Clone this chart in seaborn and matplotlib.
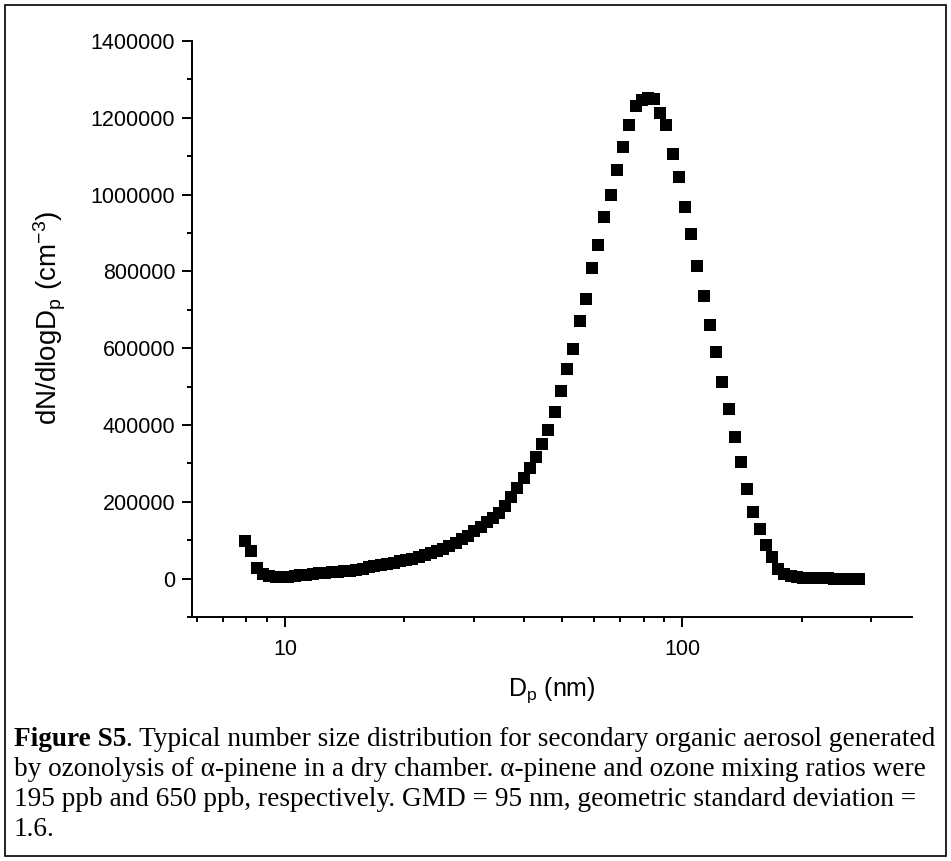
import numpy as np
import pandas as pd
import matplotlib
matplotlib.use("Agg")
import matplotlib.pyplot as plt
import seaborn as sns
from matplotlib.ticker import FixedLocator, NullFormatter, FuncFormatter, MultipleLocator, LogLocator
from matplotlib.patches import Rectangle

# ---- data ----
diameter_nm = [7.91, 8.20, 8.51, 8.82, 9.14, 9.47, 9.82, 10.2, 10.6, 10.9,
               11.3, 11.8, 12.2, 12.6, 13.1, 13.6, 14.1, 14.6, 15.1, 15.7,
               16.3, 16.8, 17.5, 18.1, 18.8, 19.5, 20.2, 20.9, 21.7, 22.5,
               23.3, 24.1, 25.0, 25.9, 26.9, 27.9, 28.9, 30.0, 31.1, 32.2,
               33.4, 34.6, 35.9, 37.2, 38.5, 40.0, 41.4, 42.9, 44.5, 46.1,
               47.8, 49.6, 51.4, 53.3, 55.2, 57.3, 59.4, 61.5, 63.8, 66.1,
               68.5, 71.0, 73.7, 76.4, 79.1, 82.0, 85.1, 88.2, 91.4, 94.7,
               98.2, 101.8, 105.5, 109.4, 113.4, 117.6, 121.9, 126.3, 131.0, 135.8,
               140.7, 145.9, 151.2, 156.8, 162.5, 168.5, 174.7, 181.1, 187.7, 194.6,
               201.7, 209.1, 216.7, 224.7, 232.9, 241.4, 250.3, 259.5, 269.0, 278.8]

dN_dlogDp = [99000, 71000, 27000, 12000, 7000, 5000, 4500, 5000, 6500, 8500,
             10500, 12500, 14000, 15500, 17000, 18000, 19500, 21000, 23000, 26000,
             29000, 32000, 35000, 38000, 41500, 45000, 48500, 52000, 56000, 60500,
             66000, 72000, 78000, 85000, 93000, 102000, 112000, 123000, 135000, 147000,
             159000, 172000, 190000, 213000, 237000, 262000, 288000, 317000, 350000, 386000,
             434000, 489000, 546000, 599000, 671000, 729000, 810000, 870000, 941000, 1000000,
             1064000, 1125000, 1182000, 1231000, 1246000, 1251000, 1248000, 1212000, 1181000, 1105000,
             1047000, 969000, 898000, 814000, 736000, 661000, 591000, 511000, 442000, 368000,
             303000, 233000, 174000, 129000, 88000, 55000, 25000, 13000, 6500, 3500,
             2000, 1200, 800, 500, 300, 200, 150, 100, 80, 50]

x_major_ticks = [10, 100]
x_tick_labels = ["10", "100"]

caption_bold = "Figure S5"
caption_lines = [
    ". Typical number size distribution for secondary organic aerosol generated",
    "by ozonolysis of \u03b1-pinene in a dry chamber. \u03b1-pinene and ozone mixing ratios were",
    "195 ppb and 650 ppb, respectively. GMD = 95 nm, geometric standard deviation =",
    "1.6.",
]

df = pd.DataFrame({"Dp": diameter_nm, "N": dN_dlogDp})

# ---- style ----
sns.set_theme(style="ticks")
plt.rcParams["font.family"] = ["Liberation Sans", "DejaVu Sans"]
plt.rcParams["mathtext.fontset"] = "custom"
plt.rcParams["mathtext.rm"] = "Liberation Sans"
plt.rcParams["mathtext.it"] = "Liberation Sans:italic"
plt.rcParams["mathtext.bf"] = "Liberation Sans:bold"

W, H = 951, 861
fig = plt.figure(figsize=(W / 100, H / 100), dpi=100)
ax_left, ax_right, ax_top, ax_bottom = 192, 912, 41, 617
ax = fig.add_axes([ax_left / W, 1 - ax_bottom / H, (ax_right - ax_left) / W, (ax_bottom - ax_top) / H])

sns.scatterplot(data=df, x="Dp", y="N", marker="s", color="black", s=78,
                linewidth=0, ax=ax, legend=False)

ax.set_xscale("log")
ax.set_xlim(5.833, 379.6)
ax.set_ylim(-100000, 1400000)

ax.xaxis.set_major_locator(FixedLocator(x_major_ticks))
ax.xaxis.set_major_formatter(FuncFormatter(lambda v, p: x_tick_labels[x_major_ticks.index(int(round(v)))] if int(round(v)) in x_major_ticks else ""))
ax.xaxis.set_minor_locator(LogLocator(base=10, subs=[2, 3, 4, 5, 6, 7, 8, 9], numticks=20))
ax.xaxis.set_minor_formatter(NullFormatter())

ax.yaxis.set_major_locator(MultipleLocator(200000))
ax.yaxis.set_minor_locator(MultipleLocator(100000))
ax.yaxis.set_major_formatter(FuncFormatter(lambda v, p: "%d" % int(round(v))))

for side in ["top", "right"]:
    ax.spines[side].set_visible(False)
for side in ["left", "bottom"]:
    ax.spines[side].set_linewidth(1.4)
    ax.spines[side].set_color("black")

ax.tick_params(axis="both", which="major", direction="out", length=7, width=1.4,
               colors="black", labelsize=15.5)
ax.tick_params(axis="both", which="minor", direction="out", length=3.6, width=1.4, colors="black")
ax.tick_params(axis="x", which="major", pad=9)
ax.tick_params(axis="y", which="major", pad=5)

ax.set_xlabel(r"D$_\mathregular{p}$ (nm)", fontsize=18, color="black", va="center")
ax.xaxis.set_label_coords(0.5, -(690 - ax_bottom) / (ax_bottom - ax_top))
ax.set_ylabel(r"dN/dlogD$_\mathregular{p}$ (cm$^\mathregular{-3}$)", fontsize=20, color="black", va="center")
ax.yaxis.set_label_coords(-(ax_left - 50) / (ax_right - ax_left), (ax_bottom - 318) / (ax_bottom - ax_top))

# ---- caption ----
serif = ["Liberation Serif", "DejaVu Serif"]
cap_size = 19.6
x0 = 14 / W
baselines = [746, 776, 806, 836]
renderer = fig.canvas.get_renderer()
tb = fig.text(x0, 1 - baselines[0] / H, caption_bold, fontsize=cap_size, family=serif,
              weight="bold", va="baseline", ha="left", color="black")
bb = tb.get_window_extent(renderer=renderer)
fig.text(bb.x1 / W, 1 - baselines[0] / H, caption_lines[0], fontsize=cap_size, family=serif,
         va="baseline", ha="left", color="black")
for line, yb in zip(caption_lines[1:], baselines[1:]):
    fig.text(x0, 1 - yb / H, line, fontsize=cap_size, family=serif,
             va="baseline", ha="left", color="black")

# ---- outer frame ----
fig.patches.append(Rectangle((5 / W, 5 / H), (W - 10) / W, (H - 10) / H,
                             transform=fig.transFigure, fill=False,
                             edgecolor="black", linewidth=1.2))

fig.savefig("out.png", dpi=100)
